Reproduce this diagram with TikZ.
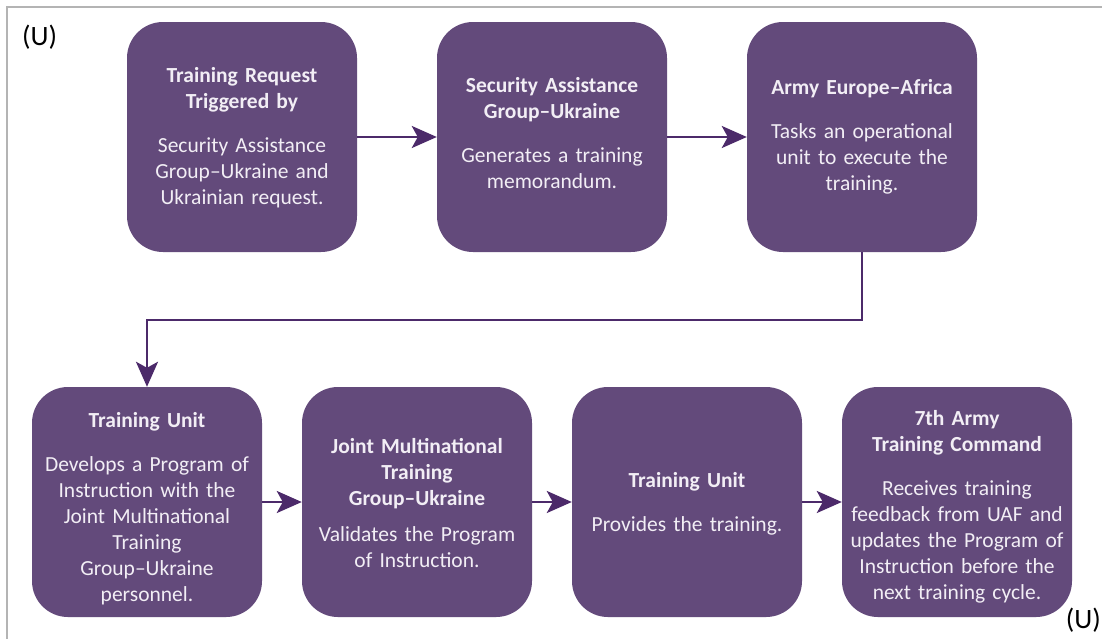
\documentclass[tikz,border=0pt]{standalone}
\usepackage{fontspec}
\setmainfont{Carlito}
\usetikzlibrary{arrows.meta}

\definecolor{boxfill}{RGB}{99,74,123}
\definecolor{linkcol}{RGB}{76,42,106}
\definecolor{framecol}{RGB}{180,180,180}
\definecolor{boxtext}{RGB}{242,238,245}

\tikzset{
  stage/.style={fill=boxfill, rounded corners=36pt,
    minimum width=230pt, minimum height=230pt, inner sep=0pt},
  stagetext/.style={text width=224pt, align=center, inner sep=0pt,
    text=boxtext, font=\fontsize{21.5}{26}\selectfont},
  link/.style={draw=linkcol, line width=2.8pt,
    -{Stealth[length=25pt,width=22pt,inset=6pt]}},
  marking/.style={inner sep=0pt, text=black, font=\fontsize{28}{32}\selectfont},
}

\begin{document}
\begin{tikzpicture}[x=1pt, y=-1pt]
  \useasboundingbox (0,0) rectangle (1102,638);
  % outer frame (left and top edges fall inside the page)
  \draw[framecol, line width=2pt] (7,640) -- (7,7) -- (1104,7);

  \node[marking, anchor=west] (utop) at (22,37) {(U)};
  \node[marking, anchor=east] (ubot) at (1101,620) {(U)};

  % boxes
  \node[stage] (s1) at (242,137) {};
  \node[stage] (s2) at (552,137) {};
  \node[stage] (s3) at (862,137) {};
  \node[stage] (s4) at (147,502) {};
  \node[stage] (s5) at (417,502) {};
  \node[stage] (s6) at (687,502) {};
  \node[stage] (s7) at (957,502) {};

  % box texts
  \node[stagetext] (t1) at ([yshift=-1pt]s1.center) {%
    \textbf{Training Request}\\\textbf{Triggered by}\\[18pt]
    Security Assistance\\Group–Ukraine and\\Ukrainian request.};
  \node[stagetext] (t2) at ([yshift=4pt]s2.center) {%
    \textbf{Security Assistance}\\\textbf{Group–Ukraine}\\[18pt]
    Generates a training\\memorandum.};
  \node[stagetext] (t3) at (s3.center) {%
    \textbf{Army Europe–Africa}\\[18pt]
    Tasks an operational\\unit to execute the\\training.};
  \node[stagetext] (t4) at ([yshift=-7pt]s4.center) {%
    \textbf{Training Unit}\\[18pt]
    Develops a Program of\\Instruction with the\\Joint Multinational\\Training\\Group–Ukraine\\personnel.};
  \node[stagetext] (t5) at ([yshift=-1pt]s5.center) {%
    \textbf{Joint Multinational}\\\textbf{Training}\\\textbf{Group–Ukraine}\\[10pt]
    Validates the Program\\of Instruction.};
  \node[stagetext] (t6) at ([yshift=-2pt]s6.center) {%
    \textbf{Training Unit}\\[18pt]
    Provides the training.};
  \node[stagetext] (t7) at ([yshift=-5pt]s7.center) {%
    \textbf{7th Army}\\\textbf{Training Command}\\[18pt]
    Receives training\\feedback from UAF and\\updates the Program of\\Instruction before the\\next training cycle.};

  \coordinate (turn) at (147,320);

  \draw[link] (s1) -- (s2);
  \draw[link] (s2) -- (s3);
  \draw[link] (s3.south) |- (turn) -- (s4.north);
  \draw[link] (s4) -- (s5);
  \draw[link] (s5) -- (s6);
  \draw[link] (s6) -- (s7);
\end{tikzpicture}
\end{document}
